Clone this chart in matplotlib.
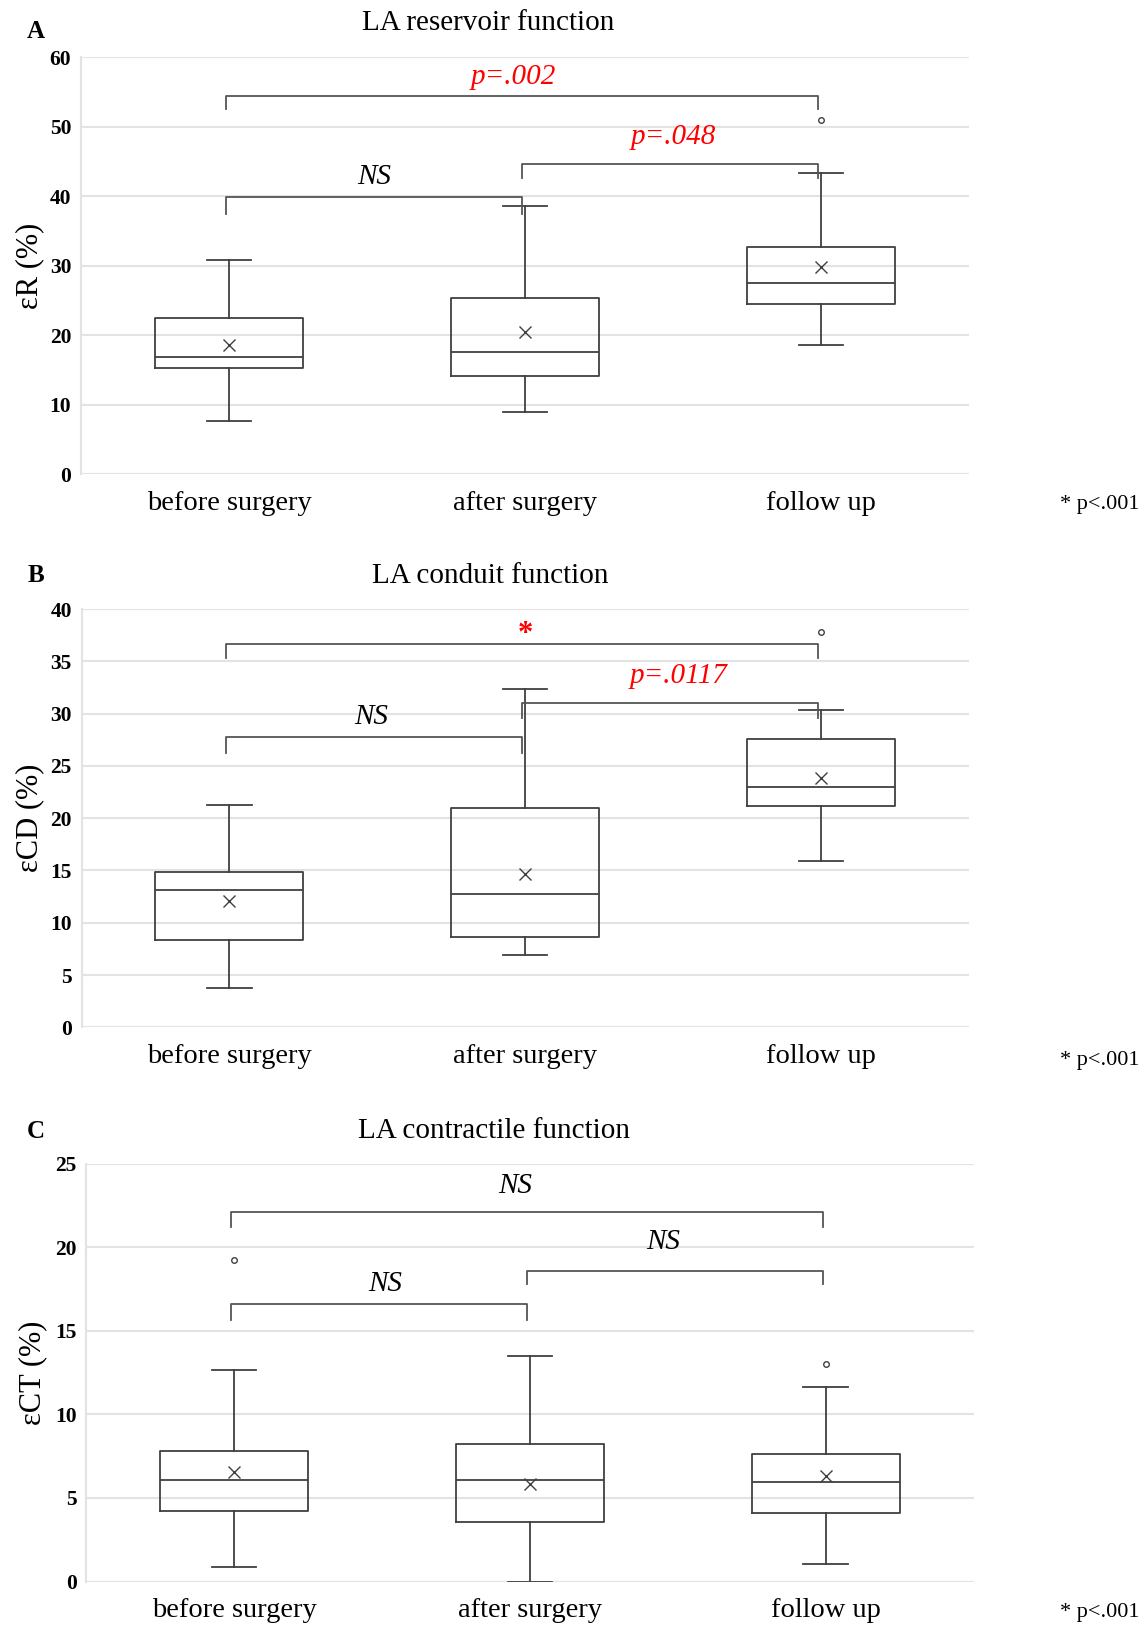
import matplotlib.pyplot as plt

plt.rcParams['font.family'] = ['Liberation Serif', 'DejaVu Serif']

groups = ['before surgery', 'after surgery', 'follow up']

# LA reservoir strain (%)
res_whislo = [7.6, 9.0, 18.55]
res_q1 = [15.25, 14.15, 24.5]
res_med = [16.8, 17.55, 27.5]
res_q3 = [22.4, 25.4, 32.7]
res_whishi = [30.8, 38.6, 43.3]
res_mean = [18.6, 20.5, 29.8]
res_fliers = [[], [], [51.0]]

# LA conduit strain (%)
cd_whislo = [3.75, 6.9, 15.95]
cd_q1 = [8.35, 8.6, 21.2]
cd_med = [13.1, 12.75, 23.0]
cd_q3 = [14.9, 21.0, 27.6]
cd_whishi = [21.3, 32.4, 30.4]
cd_mean = [12.05, 14.7, 23.85]
cd_fliers = [[], [], [37.8]]

# LA contractile strain (%)
ct_whislo = [0.85, 0.0, 1.05]
ct_q1 = [4.23, 3.55, 4.13]
ct_med = [6.05, 6.05, 5.95]
ct_q3 = [7.84, 8.23, 7.64]
ct_whishi = [12.64, 13.53, 11.63]
ct_mean = [6.56, 5.85, 6.31]
ct_fliers = [[19.23], [], [13.02]]

# comparison brackets: (left group, right group, label, label colour)
res_pairs = [(0, 2, 'p=.002', 'red'), (0, 1, 'NS', 'black'), (1, 2, 'p=.048', 'red')]
cd_pairs = [(0, 2, '*', 'red'), (0, 1, 'NS', 'black'), (1, 2, 'p=.0117', 'red')]
ct_pairs = [(0, 2, 'NS', 'black'), (0, 1, 'NS', 'black'), (1, 2, 'NS', 'black')]


def make_stats(whislo, q1, med, q3, whishi, mean, fliers):
    stats = []
    for i in range(len(med)):
        stats.append(dict(whislo=whislo[i], q1=q1[i], med=med[i], q3=q3[i],
                          whishi=whishi[i], mean=mean[i], fliers=fliers[i]))
    return stats


def draw_bracket(ax, x0, x1, y, drop, label, color, label_y, label_x):
    ax.plot([x0, x0, x1, x1], [y - drop, y, y, y - drop], color='#555555', lw=1.3,
            solid_joinstyle='round', clip_on=False, zorder=4)
    if label == '*':
        ax.text(label_x, label_y, label, color=color, fontsize=22, fontweight='bold',
                ha='center', va='center', zorder=5)
    else:
        ax.text(label_x, label_y, label, color=color, fontsize=21, fontstyle='italic',
                ha='center', va='center', zorder=5)


def draw_panel(ax, stats, ymax, step, ylabel, label_x):
    line = dict(color='#404040', lw=1.3)
    ax.bxp(stats, positions=range(len(stats)), widths=0.5, capwidths=0.15,
           showmeans=True, showfliers=True,
           boxprops=line, whiskerprops=line, capprops=line, medianprops=line,
           meanprops=dict(marker='x', markersize=8, markeredgecolor='#404040',
                          markeredgewidth=1.0),
           flierprops=dict(marker='o', markersize=4, markerfacecolor='none',
                           markeredgecolor='#404040', markeredgewidth=1.0))
    ax.set_xlim(-0.5, 2.5)
    ax.set_ylim(0, ymax)
    ax.set_yticks(range(0, ymax + 1, step))
    ax.set_xticks(range(len(groups)))
    ax.set_xticklabels(groups, fontsize=20.5)
    for t in ax.get_yticklabels():
        t.set_fontsize(15.5)
        t.set_fontweight('bold')
    ax.tick_params(axis='both', length=0)
    ax.tick_params(axis='y', pad=7)
    ax.tick_params(axis='x', pad=12)
    ax.yaxis.grid(True, color='#e3e3e3', lw=1.5, zorder=0)
    ax.set_axisbelow(True)
    for side in ['top', 'right', 'bottom']:
        ax.spines[side].set_visible(False)
    ax.spines['left'].set_color('#e3e3e3')
    ax.spines['left'].set_linewidth(1.5)
    ax.set_ylabel(ylabel, fontsize=22)
    ax.yaxis.set_label_coords(label_x, 0.5)


fig = plt.figure(figsize=(11.48, 16.28), dpi=100)

ax_a = fig.add_axes([0.0706, 0.7088, 0.7735, 0.2560])
ax_b = fig.add_axes([0.0710, 0.3690, 0.7730, 0.2568])
ax_c = fig.add_axes([0.0753, 0.02856, 0.7727, 0.2565])

draw_panel(ax_a, make_stats(res_whislo, res_q1, res_med, res_q3, res_whishi,
                            res_mean, res_fliers), 60, 10, 'εR (%)', -0.042)
draw_panel(ax_b, make_stats(cd_whislo, cd_q1, cd_med, cd_q3, cd_whishi,
                            cd_mean, cd_fliers), 40, 5, 'εCD (%)', -0.042)
draw_panel(ax_c, make_stats(ct_whislo, ct_q1, ct_med, ct_q3, ct_whishi,
                            ct_mean, ct_fliers), 25, 5, 'εCT (%)', -0.044)

# bracket heights and label spots, per panel
a_geom = [(54.5, 2.0, 57.1, 0.96), (39.9, 2.4, 42.8, 0.49), (44.7, 2.1, 48.5, 1.50)]
b_geom = [(36.7, 1.4, 37.6, 1.0), (27.8, 1.6, 29.7, 0.48), (31.0, 1.4, 33.6, 1.52)]
c_geom = [(22.12, 0.92, 23.7, 0.95), (16.63, 1.0, 17.84, 0.51), (18.6, 0.8, 20.3, 1.45)]

for ax, pairs, geom in [(ax_a, res_pairs, a_geom), (ax_b, cd_pairs, b_geom),
                        (ax_c, ct_pairs, c_geom)]:
    for (i0, i1, label, color), (y, drop, ly, lx) in zip(pairs, geom):
        draw_bracket(ax, i0 - 0.01, i1 - 0.01, y, drop, label, color, ly, lx)

titles = [('LA reservoir function', 488, 23), ('LA conduit function', 490, 576),
          ('LA contractile function', 494, 1131)]
for text, x, y in titles:
    fig.text(x / 1148, 1 - y / 1628, text, fontsize=21, ha='center', va='center')

for letter, y in [('A', 32), ('B', 575), ('C', 1132)]:
    fig.text(36 / 1148, 1 - y / 1628, letter, fontsize=18, fontweight='bold',
             ha='center', va='center')

for y in [505, 1060, 1612]:
    fig.text(1139 / 1148, 1 - y / 1628, '* p<.001', fontsize=16, ha='right', va='center')

fig.savefig('out.png', dpi=100, facecolor='white')
